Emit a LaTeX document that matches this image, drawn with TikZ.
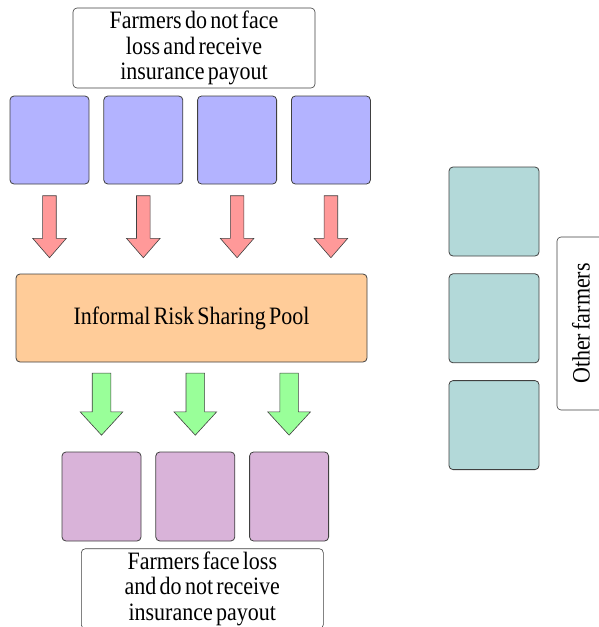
\documentclass[tikz,border=0pt]{standalone}
\usepackage{fontspec}
\setmainfont{Liberation Serif}[FakeStretch=0.88,WordSpace=0.6]
\usetikzlibrary{positioning,shapes.arrows}
\definecolor{farmblue}{HTML}{B3B3FF}
\definecolor{farmpurple}{HTML}{D9B3D9}
\definecolor{farmteal}{HTML}{B3D9D9}
\definecolor{poolorange}{HTML}{FFCC99}
\definecolor{payred}{HTML}{FF9999}
\definecolor{paygreen}{HTML}{99FF99}
\definecolor{edgegray}{HTML}{404040}
\tikzset{
    farmer/.style={
           rectangle, rounded corners=4pt,
           draw=edgegray, line width=0.8pt,
           minimum width=79pt, minimum height=88pt,
           inner sep=0pt,
           },
}
\tikzset{
    label box/.style={
           rectangle, rounded corners=4pt,
           draw=edgegray, line width=0.6pt,
           fill=white,
           align=center,
           font=\fontsize{25}{25.5}\selectfont,
           inner sep=0pt,
           },
}
\tikzset{
    flow/.style={
           single arrow, shape border rotate=270,
           draw=edgegray, line width=0.6pt,
           inner sep=0pt,
           },
}

\begin{document}
\begin{tikzpicture}[x=1pt,y=1pt]
\useasboundingbox (0,0) rectangle (598,-627);
% top group of farmers
\node[label box,minimum width=242pt,minimum height=80pt] (topbox) at (194,-48) {Farmers do not face\\loss and receive\\insurance payout};
\node[farmer,fill=farmblue] (b1) at (49.5,-140) {};
\node[farmer,fill=farmblue,right=14pt of b1] (b2) {};
\node[farmer,fill=farmblue,right=14pt of b2] (b3) {};
\node[farmer,fill=farmblue,right=14pt of b3] (b4) {};
% the pool
\node[rectangle,rounded corners=4pt,draw=edgegray,line width=0.8pt,fill=poolorange,
      minimum width=351pt,minimum height=88pt,font=\fontsize{25}{25.5}\selectfont]
      (pool) at (191.5,-318) {Informal Risk Sharing Pool};
% payments into the pool
\node[flow,fill=payred,minimum height=62pt,minimum width=33pt,single arrow head extend=10pt,
      single arrow tip angle=82,text width=13pt,anchor=north,below=11pt of b1] (r1) {};
\node[flow,fill=payred,minimum height=62pt,minimum width=33pt,single arrow head extend=10pt,
      single arrow tip angle=82,text width=13pt,anchor=north,below=11pt of b2] (r2) {};
\node[flow,fill=payred,minimum height=62pt,minimum width=33pt,single arrow head extend=10pt,
      single arrow tip angle=82,text width=13pt,anchor=north,below=11pt of b3] (r3) {};
\node[flow,fill=payred,minimum height=62pt,minimum width=33pt,single arrow head extend=10pt,
      single arrow tip angle=82,text width=13pt,anchor=north,below=11pt of b4] (r4) {};
% bottom group of farmers
\node[farmer,fill=farmpurple,minimum height=89pt] (p1) at (101.5,-496.5) {};
\node[farmer,fill=farmpurple,minimum height=89pt,right=14pt of p1] (p2) {};
\node[farmer,fill=farmpurple,minimum height=89pt,right=14pt of p2] (p3) {};
\node[label box,minimum width=242pt,minimum height=80pt,below=7pt of p2.south,anchor=north,xshift=7pt] (botbox) {Farmers face loss\\and do not receive\\insurance payout};
% payouts from the pool
\node[flow,fill=paygreen,minimum height=62pt,minimum width=42pt,single arrow head extend=12pt,
      single arrow tip angle=85,text width=18pt,anchor=south,above=16pt of p1] (g1) {};
\node[flow,fill=paygreen,minimum height=62pt,minimum width=42pt,single arrow head extend=12pt,
      single arrow tip angle=85,text width=18pt,anchor=south,above=16pt of p2] (g2) {};
\node[flow,fill=paygreen,minimum height=62pt,minimum width=42pt,single arrow head extend=12pt,
      single arrow tip angle=85,text width=18pt,anchor=south,above=16pt of p3] (g3) {};
% other farmers
\node[farmer,fill=farmteal,minimum width=90pt,minimum height=89pt] (t1) at (494,-211.5) {};
\node[farmer,fill=farmteal,minimum width=90pt,minimum height=89pt,below=17pt of t1] (t2) {};
\node[farmer,fill=farmteal,minimum width=90pt,minimum height=89pt,below=17pt of t2] (t3) {};
\node[label box,minimum width=173pt,minimum height=48pt,rotate=90] (otherbox) at (581,-323.5) {Other farmers};
\end{tikzpicture}
\end{document}
